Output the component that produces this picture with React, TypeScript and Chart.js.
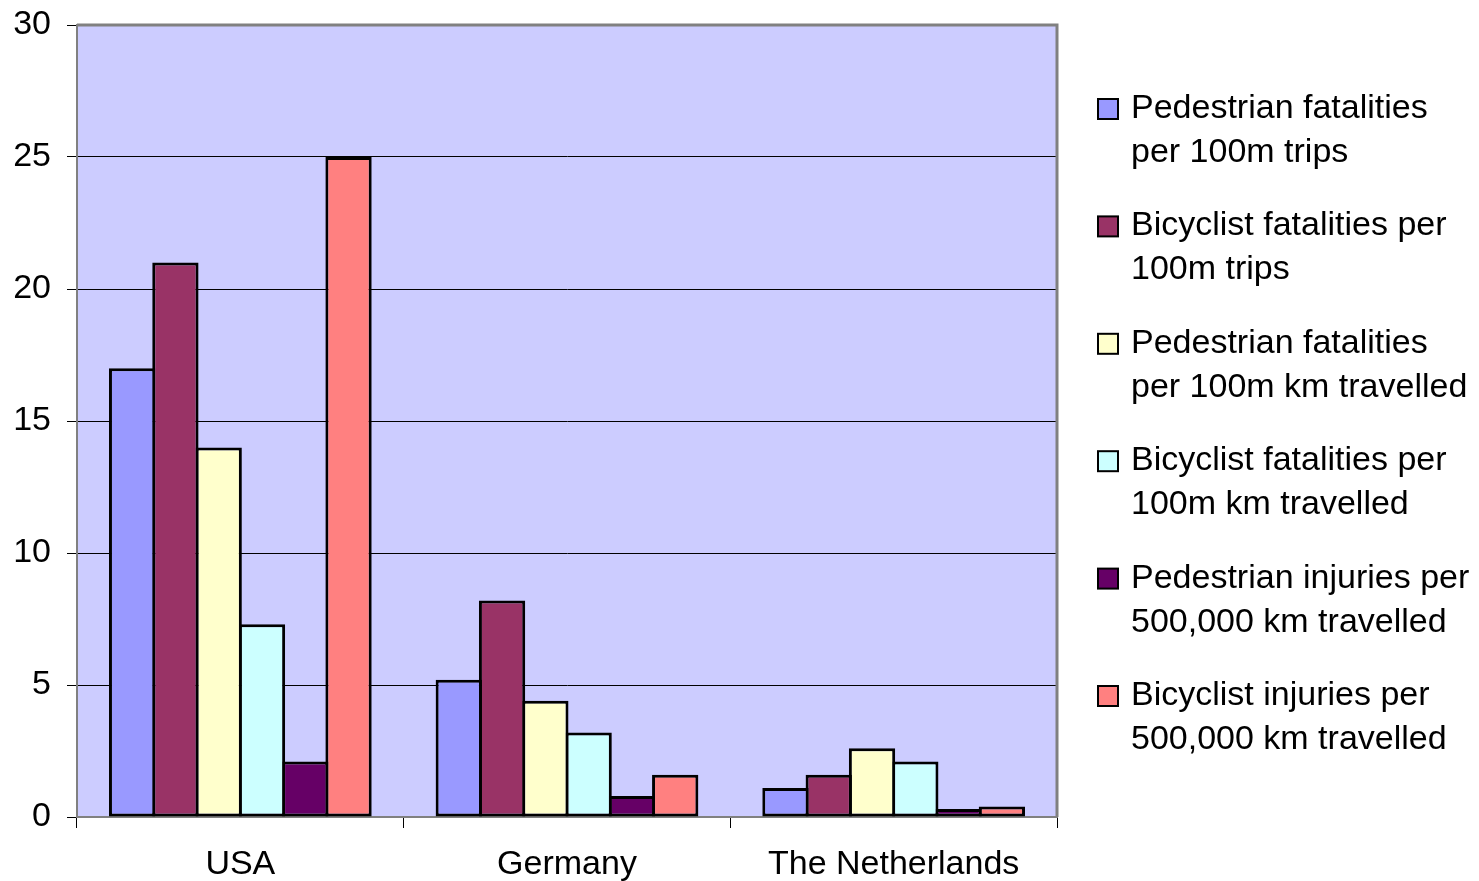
import React, { useEffect, useRef } from "react";
import { Chart, registerables } from "chart.js";

Chart.register(...registerables);

// Countries on the category axis
const countries = ["USA", "Germany", "The Netherlands"];

// One array per series, values in country order
const pedestrianFatalitiesPerTrips = [17, 5.2, 1.1];
const bicyclistFatalitiesPerTrips = [21, 8.2, 1.6];
const pedestrianFatalitiesPerKm = [14, 4.4, 2.6];
const bicyclistFatalitiesPerKm = [7.3, 3.2, 2.1];
const pedestrianInjuriesPerKm = [2.1, 0.8, 0.3];
const bicyclistInjuriesPerKm = [25, 1.6, 0.4];

// Legend text, split into the two lines it is shown on
const seriesLabels = [
  ["Pedestrian fatalities", "per 100m trips"],
  ["Bicyclist fatalities per", "100m trips"],
  ["Pedestrian fatalities", "per 100m km travelled"],
  ["Bicyclist fatalities per", "100m km travelled"],
  ["Pedestrian injuries per", "500,000 km travelled"],
  ["Bicyclist injuries per", "500,000 km travelled"],
];

const seriesColors = ["#9999FF", "#993366", "#FFFFCC", "#CCFFFF", "#660066", "#FF8080"];

// Y axis range and step
const yMin = 0;
const yMax = 30;
const yStep = 5;

const FONT = "'Liberation Sans', Arial, sans-serif";
const FONT_SIZE = 34;

const plotFrame = {
  id: "plotFrame",
  beforeDraw(chart: any) {
    const { ctx, chartArea: a } = chart;
    ctx.save();
    ctx.fillStyle = "#CCCCFF";
    ctx.fillRect(a.left, a.top, a.right - a.left, a.bottom - a.top);
    ctx.restore();
  },
  beforeDatasetsDraw(chart: any) {
    const { ctx, chartArea: a } = chart;
    ctx.save();
    ctx.strokeStyle = "#808080";
    ctx.lineWidth = 3;
    ctx.beginPath();
    ctx.moveTo(a.left, a.top);
    ctx.lineTo(a.right, a.top);
    ctx.lineTo(a.right, a.bottom);
    ctx.stroke();
    ctx.restore();
  },
};

const sideLegend = {
  id: "sideLegend",
  afterDraw(chart: any) {
    const { ctx } = chart;
    ctx.save();
    ctx.font = `${FONT_SIZE}px ${FONT}`;
    ctx.textBaseline = "alphabetic";
    ctx.textAlign = "left";
    chart.data.datasets.forEach((ds: any, i: number) => {
      const base = 118 + i * 117.4;
      ctx.fillStyle = ds.backgroundColor;
      ctx.fillRect(1098, base - 19, 20, 20);
      ctx.strokeStyle = "#000";
      ctx.lineWidth = 2;
      ctx.strokeRect(1098, base - 19, 20, 20);
      ctx.fillStyle = "#000";
      (ds.lines as string[]).forEach((line, j) => {
        ctx.fillText(line, 1131, base + j * 44);
      });
    });
    ctx.restore();
  },
};

export default function App() {
  const canvasRef = useRef<HTMLCanvasElement | null>(null);

  useEffect(() => {
    const seriesValues = [
      pedestrianFatalitiesPerTrips,
      bicyclistFatalitiesPerTrips,
      pedestrianFatalitiesPerKm,
      bicyclistFatalitiesPerKm,
      pedestrianInjuriesPerKm,
      bicyclistInjuriesPerKm,
    ];
    const chart = new Chart(canvasRef.current as HTMLCanvasElement, {
      type: "bar",
      data: {
        labels: countries,
        datasets: seriesValues.map((values, i) => ({
          label: seriesLabels[i].join(" "),
          lines: seriesLabels[i],
          data: values,
          backgroundColor: seriesColors[i],
          borderColor: "#000000",
          borderWidth: 3,
          borderSkipped: false,
          // neighbouring bars overlap by one border width so they share an edge
          categoryPercentage: 0.795,
          barPercentage: 1.07,
        })) as any,
      },
      options: {
        responsive: false,
        animation: false,
        events: [],
        layout: { padding: { top: 25, right: 422, left: 0, bottom: 0 } },
        plugins: {
          legend: { display: false },
          tooltip: { enabled: false },
        },
        scales: {
          x: {
            offset: true,
            grid: {
              offset: true,
              drawOnChartArea: false,
              drawTicks: true,
              tickLength: 11,
              tickColor: "#000000",
              lineWidth: 1,
            },
            border: { color: "#808080", width: 2 },
            ticks: {
              color: "#000000",
              font: { family: FONT, size: FONT_SIZE },
              padding: 16,
              maxRotation: 0,
            },
            afterFit(scale: any) {
              scale.height = 64;
            },
          },
          y: {
            min: yMin,
            max: yMax,
            grid: {
              color: (c: any) =>
                c.tick && (c.tick.value === yMax || c.tick.value === yMin) ? "rgba(0,0,0,0)" : "#000000",
              tickColor: "#000000",
              tickLength: 10,
              lineWidth: 1,
            },
            border: { color: "#808080", width: 2 },
            ticks: {
              stepSize: yStep,
              color: "#000000",
              font: { family: FONT, size: FONT_SIZE },
              padding: 16,
            },
            afterFit(scale: any) {
              scale.width = 77;
              // the plot edge is placed by the layout padding alone
              scale.paddingTop = 0;
              scale.paddingBottom = 0;
            },
          },
        },
      },
      plugins: [plotFrame, sideLegend],
    });
    return () => chart.destroy();
  }, []);

  return (
    <div style={{ position: "absolute", left: 0, top: 0, width: 1479, height: 881, background: "#fff" }}>
      <canvas ref={canvasRef} width={1479} height={881} style={{ display: "block" }} />
    </div>
  );
}
